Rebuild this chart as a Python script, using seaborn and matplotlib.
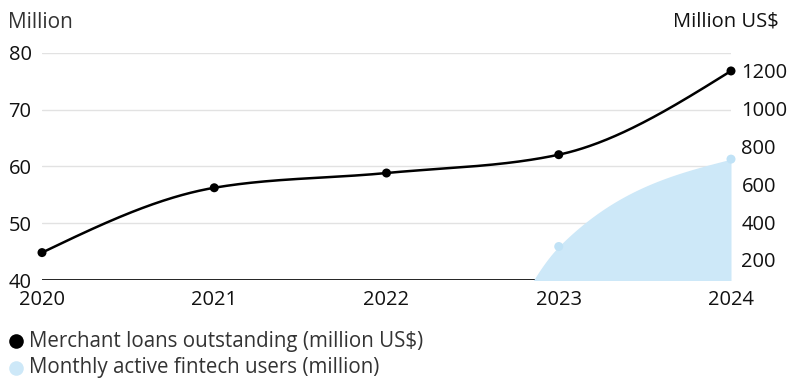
import numpy as np
import pandas as pd
import matplotlib
matplotlib.use("Agg")
import matplotlib.pyplot as plt
from matplotlib.lines import Line2D
import seaborn as sns

years = [2020, 2021, 2022, 2023, 2024]
loans_musd = [239, 582, 660, 757, 1200]          # right axis, million US$
fintech_users_m = [0, 0, 0, 45.9, 61.3]           # left axis, million (early values hidden below axis)
left_ticks = [40, 50, 60, 70, 80]
right_ticks = [200, 400, 600, 800, 1000, 1200]
series_names = ["Merchant loans outstanding (million US$)",
                "Monthly active fintech users (million)"]

sns.set_theme(style="white")
plt.rcParams['font.family'] = ['Open Sans', 'DejaVu Sans']


def monotone_x(x, y, n=400):
    """Monotone cubic curve (same rule as d3.curveMonotoneX) for smooth rendering."""
    x = np.asarray(x, float); y = np.asarray(y, float)
    sgn = lambda v: -1.0 if v < 0 else 1.0
    N = len(x)
    m = np.zeros(N)
    for k in range(1, N - 1):
        h0 = x[k] - x[k - 1]; h1 = x[k + 1] - x[k]
        s0 = (y[k] - y[k - 1]) / h0; s1 = (y[k + 1] - y[k]) / h1
        p = (s0 * h1 + s1 * h0) / (h0 + h1)
        m[k] = (sgn(s0) + sgn(s1)) * min(abs(s0), abs(s1), 0.5 * abs(p))
    m[0] = (3 * (y[1] - y[0]) / (x[1] - x[0]) - m[1]) / 2
    m[-1] = (3 * (y[-1] - y[-2]) / (x[-1] - x[-2]) - m[-2]) / 2
    xs = np.linspace(x[0], x[-1], n)
    ys = np.empty_like(xs)
    for i, xv in enumerate(xs):
        k = min(np.searchsorted(x, xv, side='right') - 1, N - 2)
        h = x[k + 1] - x[k]
        t = (xv - x[k]) / h
        h00 = 2 * t**3 - 3 * t**2 + 1; h10 = t**3 - 2 * t**2 + t
        h01 = -2 * t**3 + 3 * t**2; h11 = t**3 - t**2
        ys[i] = h00 * y[k] + h10 * h * m[k] + h01 * y[k + 1] + h11 * h * m[k + 1]
    return xs, ys


fig = plt.figure(figsize=(7.89, 3.81), dpi=100)
ax = fig.add_axes([42 / 789, 101 / 381, 689 / 789, 227 / 381])
ax2 = ax.twinx()

blue_fill = "#cde8f8"
blue_pt = "#c0e2f6"
txt = "#111111"

# blue area (left axis)
bx, by = monotone_x(years, fintech_users_m)
ax.fill_between(bx, by, 0, color=blue_fill, lw=0, zorder=2)
dfb = pd.DataFrame({"year": years, "v": fintech_users_m})
sns.scatterplot(data=dfb[dfb.v >= 40], x="year", y="v", ax=ax, color=blue_pt,
                s=42, edgecolor="none", zorder=3, clip_on=False)

ax.set_xlim(2020, 2024)
ax.set_ylim(40, 80)
ax.set_yticks(left_ticks)
ax.set_xticks(years)
ax.set_xticklabels([str(y) for y in years])
ax.grid(axis='y', color="#e2e2e2", lw=1)
ax.grid(axis='x', visible=False)
ax.set_axisbelow(True)
for s in ax.spines.values():
    s.set_visible(False)
ax.axhline(40, color="black", lw=1.2, zorder=1.5)
ax.tick_params(axis='y', length=0, pad=7.5, labelsize=14.5, labelcolor=txt)
ax.tick_params(axis='x', length=0, pad=7, labelsize=14.5, labelcolor=txt)
ax.set_xlabel(""); ax.set_ylabel("")

# black line (right axis)
lx, ly = monotone_x(years, loans_musd)
sns.lineplot(x=lx, y=ly, ax=ax2, color="black", lw=1.8, zorder=4)
sns.scatterplot(x=years, y=loans_musd, ax=ax2, color="black", s=42,
                edgecolor="none", zorder=5, clip_on=False)
ax2.set_ylim(94, 1295)
ax2.set_yticks(right_ticks)
ax2.grid(False)
for s in ax2.spines.values():
    s.set_visible(False)
ax2.tick_params(axis='y', length=0, pad=7.5, labelsize=14.5, labelcolor=txt)
ax2.set_ylabel("")

fig.text(8 / 789, 1 - 22 / 381, "Million", ha="left", va="center", fontsize=15, color="#333333")
fig.text(779 / 789, 1 - 22 / 381, "Million US$", ha="right", va="center", fontsize=14.5, color=txt)

# legend
legend_colors = ["black", blue_fill]
for i, (name, col) in enumerate(zip(series_names, legend_colors)):
    yc = 1 - (341 + 26.5 * i) / 381
    fig.add_artist(Line2D([16 / 789], [yc], transform=fig.transFigure, ls="none",
                          marker="o", ms=10.5, color=col, markeredgewidth=0))
    fig.text(29 / 789, yc, name, ha="left", va="center", fontsize=14.8, color="#333333")

fig.savefig("out.png", dpi=100)
